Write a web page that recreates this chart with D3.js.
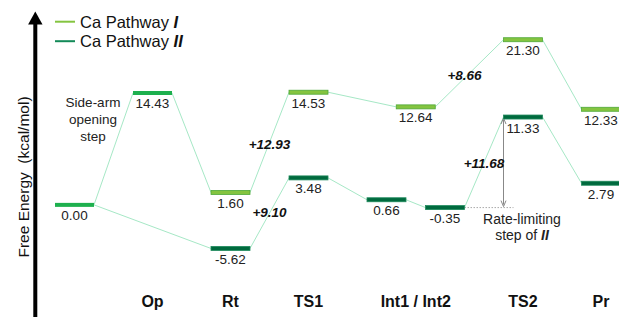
<!DOCTYPE html>
<html>
<head>
<meta charset="utf-8">
<script src="https://cdn.jsdelivr.net/npm/d3@7/dist/d3.min.js"></script>
<style>
  html, body { margin: 0; padding: 0; background: #fff; }
  svg { display: block; font-family: "Liberation Sans", Arial, sans-serif; }
</style>
</head>
<body>
<svg id="chart" width="619" height="317"></svg>
<script>
// ---- data ----
const stages = ["R", "Op", "Rt", "TS1", "Int1", "Int", "Int2", "TS2", "Pr"];
const categoryStages = ["Op", "Rt", "Int", "TS1", "TS2", "Pr"];
const categoryLabels = ["Op", "Rt", "Int1 / Int2", "TS1", "TS2", "Pr"];
const pathIStages  = ["R", "Op", "Rt", "TS1", "Int", "TS2", "Pr"];
const pathIValues  = [0.00, 14.43, 1.60, 14.53, 12.64, 21.30, 12.33];
const pathIIStages = ["R", "Rt", "TS1", "Int1", "Int2", "TS2", "Pr"];
const pathIIValues = [0.00, -5.62, 3.48, 0.66, -0.35, 11.33, 2.79];
const sharedStages = ["R", "Op"];
const seriesNames = ["Ca Pathway ", "Ca Pathway "];
const seriesNumerals = ["I", "II"];

// ---- layout ----
const W = 619, H = 317;
const slot = {R: 0, Op: 1, Rt: 2, TS1: 3, Int1: 4, Int: 4.375, Int2: 4.75, TS2: 5.75, Pr: 6.75};
const x = d3.scaleLinear().domain([0, 1]).range([74.5, 152.5]);
const y = d3.scaleLinear().domain([-6, 22]).range([251.4, 34.3]);
const halfW = 19.5, barH = 4;
const colShared = "#1db04e";
const colI = "#84c440", colIStroke = "#4ea838";
const colII = "#006a3e", colIIStroke = "#1f8a5c";
const connColor = "#a6e8c6";

const svg = d3.select("#chart");
svg.append("rect").attr("width", W).attr("height", H).attr("fill", "#fff");

// connectors
function connectors(st, vals) {
  const segs = [];
  for (let i = 0; i < st.length - 1; i++) {
    segs.push([[x(slot[st[i]]) + halfW, y(vals[i])], [x(slot[st[i + 1]]) - halfW, y(vals[i + 1])]]);
  }
  return segs;
}
const line = d3.line();
[connectors(pathIStages, pathIValues), connectors(pathIIStages, pathIIValues)].forEach(segs => {
  svg.append("g").selectAll("path").data(segs).join("path")
    .attr("d", d => line(d))
    .attr("fill", "none").attr("stroke", connColor).attr("stroke-width", 1);
});

// dotted reference line and gray arrow (rate-limiting step of II)
const int2V = pathIIValues[pathIIStages.indexOf("Int2")];
const ts2V = pathIIValues[pathIIStages.indexOf("TS2")];
const arrowX = x(slot.TS2) - halfW;
svg.append("line")
  .attr("x1", x(slot.Int2) + halfW).attr("x2", arrowX + 10)
  .attr("y1", y(int2V)).attr("y2", y(int2V))
  .attr("stroke", "#aaa").attr("stroke-width", 1).attr("stroke-dasharray", "1.5,1.5");
svg.append("line")
  .attr("x1", arrowX).attr("x2", arrowX)
  .attr("y1", y(ts2V) + 3).attr("y2", y(int2V) - 3)
  .attr("stroke", "#888").attr("stroke-width", 1);
svg.append("path")
  .attr("d", `M${arrowX - 2.5},${y(int2V) - 7} L${arrowX},${y(int2V) - 1} L${arrowX + 2.5},${y(int2V) - 7}`)
  .attr("fill", "none").attr("stroke", "#888").attr("stroke-width", 1);
svg.append("path")
  .attr("d", `M${arrowX - 2.5},${y(ts2V) + 7} L${arrowX},${y(ts2V) + 1} L${arrowX + 2.5},${y(ts2V) + 7}`)
  .attr("fill", "none").attr("stroke", "#888").attr("stroke-width", 1);

// bars
function bars(st, vals, fill, stroke, skipShared) {
  const d = st.map((s, i) => ({s, v: vals[i]})).filter(o => !(skipShared && sharedStages.includes(o.s)));
  svg.append("g").selectAll("rect").data(d).join("rect")
    .attr("x", o => x(slot[o.s]) - halfW)
    .attr("y", o => y(o.v) - barH / 2)
    .attr("width", halfW * 2).attr("height", barH)
    .attr("fill", fill).attr("stroke", stroke).attr("stroke-width", stroke ? 0.8 : 0);
  svg.append("g").selectAll("text").data(d).join("text")
    .attr("x", o => x(slot[o.s]))
    .attr("y", o => y(o.v) + 15.5)
    .attr("text-anchor", "middle").attr("font-size", 13.5).attr("fill", "#222")
    .text(o => o.v.toFixed(2));
}
bars(pathIStages, pathIValues, colI, colIStroke, true);
bars(pathIIStages, pathIIValues, colII, colIIStroke, true);
bars(sharedStages, sharedStages.map(s => pathIValues[pathIStages.indexOf(s)]), colShared, null, false);

// barrier annotations
const barriers = [
  {from: ["I", "Rt"], to: ["I", "TS1"], sx: 2.5, v: 7.85},
  {from: ["II", "Rt"], to: ["II", "TS1"], sx: 2.5, v: -0.95},
  {from: ["I", "Int"], to: ["I", "TS2"], sx: 5.0, v: 16.75},
  {from: ["II", "Int2"], to: ["II", "TS2"], sx: 5.25, v: 5.4}
];
function val(p) {
  return p[0] === "I" ? pathIValues[pathIStages.indexOf(p[1])] : pathIIValues[pathIIStages.indexOf(p[1])];
}
svg.append("g").selectAll("text").data(barriers).join("text")
  .attr("x", b => x(b.sx)).attr("y", b => y(b.v) + 5)
  .attr("text-anchor", "middle").attr("font-size", 13.5)
  .attr("font-weight", "bold").attr("font-style", "italic").attr("fill", "#111")
  .text(b => "+" + (val(b.to) - val(b.from)).toFixed(2));

// text notes
const note1 = svg.append("text").attr("text-anchor", "middle").attr("font-size", 13.5).attr("fill", "#222");
["Side-arm", "opening", "step"].forEach((t, i) => note1.append("tspan").attr("x", 93).attr("y", 107 + i * 17).text(t));
const note2 = svg.append("text").attr("text-anchor", "middle").attr("font-size", 14).attr("fill", "#222");
note2.append("tspan").attr("x", 522).attr("y", 224).text("Rate-limiting");
const l2 = svg.append("text").attr("text-anchor", "middle").attr("font-size", 14).attr("fill", "#222")
  .attr("x", 522).attr("y", 240);
l2.append("tspan").text("step of ");
l2.append("tspan").attr("font-weight", "bold").attr("font-style", "italic").text("II");

// category labels
svg.append("g").selectAll("text").data(categoryStages).join("text")
  .attr("x", s => x(slot[s])).attr("y", 307)
  .attr("text-anchor", "middle").attr("font-size", 16).attr("font-weight", "bold").attr("fill", "#111")
  .text((s, i) => categoryLabels[i]);

// y axis with arrow
svg.append("line").attr("x1", 35.3).attr("x2", 35.3).attr("y1", 20).attr("y2", H)
  .attr("stroke", "#000").attr("stroke-width", 4);
svg.append("path").attr("d", "M35.3,11.5 L42.5,24.5 L28.1,24.5 Z").attr("fill", "#000");
svg.append("text")
  .attr("transform", "translate(28.5,177) rotate(-90)")
  .attr("text-anchor", "middle").attr("font-size", 15.5).attr("fill", "#111")
  .attr("xml:space", "preserve")
  .text("Free Energy  (kcal/mol)");

// legend
const legColors = [colI, "#138a58"];
seriesNames.forEach((n, i) => {
  const ly = 21.7 + i * 19.5;
  svg.append("line").attr("x1", 55).attr("x2", 75).attr("y1", ly).attr("y2", ly)
    .attr("stroke", legColors[i]).attr("stroke-width", 2);
  const t = svg.append("text").attr("x", 80).attr("y", ly + 6).attr("font-size", 16.5).attr("fill", "#111");
  t.append("tspan").text(n);
  t.append("tspan").attr("font-weight", "bold").attr("font-style", "italic").text(seriesNumerals[i]);
});
</script>
</body>
</html>
